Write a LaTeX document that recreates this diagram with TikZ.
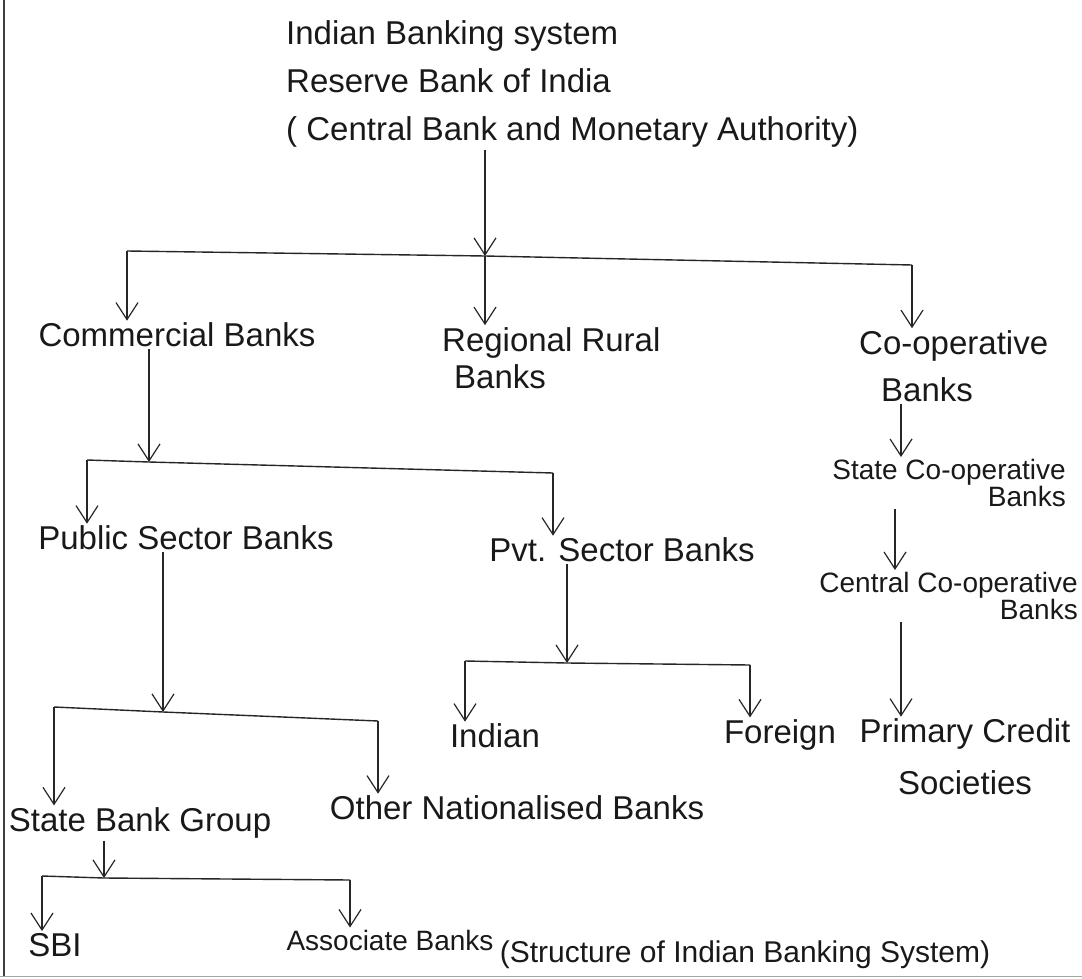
\documentclass[tikz,border=0pt]{standalone}
\usepackage{fontspec}
\setmainfont{Liberation Sans}
\usetikzlibrary{arrows.meta}

\tikzset{
  lbl/.style={inner sep=2pt, text=black!90, font=\fontsize{33}{40}\selectfont},
  arr/.style={-{Straight Barb[length=17pt,width=22pt]}, line width=1.2pt, draw=black!85},
  bar/.style={line width=1.4pt, draw=black!85}
}

\begin{document}
\begin{tikzpicture}[x=1pt,y=-1pt]
        \useasboundingbox (0,0) rectangle (1082,979);
        % page edges
        \draw[line width=1.2pt, black!75] (4,0) -- (4,976);
        \draw[line width=1pt, black!35] (0,976) -- (1082,976);
        % labels
        \node[lbl, anchor=west, align=left, font=\fontsize{33}{48}\selectfont] (rbi) at (284,84)
            {Indian Banking system\\Reserve Bank of India\\( Central Bank and Monetary Authority)};
        \node[lbl] (com) at (177,335) {Commercial Banks};
        \node[lbl, anchor=west, align=left, font=\fontsize{33}{37}\selectfont] (reg) at (440,358)
            {Regional Rural\\\hspace*{12pt}Banks};
        \node[lbl, anchor=west, align=left, font=\fontsize{33}{47}\selectfont] (coop) at (857,366)
            {Co-operative\\\hspace*{22pt}Banks};
        \node[lbl, anchor=east, align=right, font=\fontsize{28}{27}\selectfont] (scb) at (1068,483)
            {State Co-operative\\Banks};
        \node[lbl, anchor=east, align=right, font=\fontsize{28}{27}\selectfont] (ccb) at (1080,596)
            {Central Co-operative\\Banks};
        \node[lbl, align=center, font=\fontsize{33}{52}\selectfont] (pcs) at (965,757)
            {Primary Credit\\Societies};
        \node[lbl] (pub) at (186,538) {Public Sector Banks};
        \node[lbl] (pvt) at (622,550) {Pvt. Sector Banks};
        \node[lbl] (ind) at (495,736) {Indian};
        \node[lbl] (frn) at (780,735) {Foreign};
        \node[lbl] (sbg) at (140,823) {State Bank Group};
        \node[lbl] (onb) at (517,808) {Other Nationalised Banks};
        \node[lbl] (sbi) at (55,945) {SBI};
        \node[lbl, font=\fontsize{28}{34}\selectfont] (asb) at (390,940) {Associate Banks};
        \node[lbl, font=\fontsize{30}{36}\selectfont] (cap) at (745,955) {(Structure of Indian Banking System)};
        % junctions
        \coordinate (tl) at (127,251);
        \coordinate (t0) at (485,256);
        \coordinate (tr) at (912,265);
        \coordinate (cl) at (87,460);
        \coordinate (c0) at (149,462);
        \coordinate (cr) at (553,473);
        \coordinate (pl) at (54,707);
        \coordinate (p0) at (163,712);
        \coordinate (pr) at (378,721);
        \coordinate (sl) at (42,876);
        \coordinate (s0) at (104,878);
        \coordinate (sr) at (350,880);
        \coordinate (vl) at (465,661);
        \coordinate (v0) at (567,663);
        \coordinate (vr) at (750,665);
        \coordinate (k1) at (901,0);
        \coordinate (k2) at (895,0);
        % bars
        \draw[bar] (tl) -- (t0) -- (tr);
        \draw[bar] (cl) -- (c0) -- (cr);
        \draw[bar] (pl) -- (p0) -- (pr);
        \draw[bar] (sl) -- (s0) -- (sr);
        \draw[bar] (vl) -- (v0) -- (vr);
        % arrows
        \draw[arr] (t0 |- rbi.south) -- (t0);
        \draw[arr] (tl) -- (tl |- com.north);
        \draw[arr] (t0) -- (t0 |- reg.north);
        \draw[arr] (tr) -- (tr |- coop.north);
        \draw[arr] (c0 |- com.south) -- (c0);
        \draw[arr] (cl) -- (cl |- pub.north);
        \draw[arr] (cr) -- (cr |- pvt.north);
        \draw[arr] (p0 |- pub.south) -- (p0);
        \draw[arr] (pl) -- (pl |- sbg.north);
        \draw[arr] (pr) -- (pr |- onb.north);
        \draw[arr] (s0 |- sbg.south) -- (s0);
        \draw[arr] (sl) -- (sl |- sbi.north);
        \draw[arr] (sr) -- (sr |- asb.north);
        \draw[arr] (v0 |- pvt.south) -- (v0);
        \draw[arr] (vl) -- (vl |- ind.north);
        \draw[arr] (vr) -- (vr |- frn.north);
        \draw[arr] (k1 |- coop.south) -- (k1 |- scb.north);
        \draw[arr] (k2 |- scb.south) -- (k2 |- ccb.north);
        \draw[arr] (k1 |- ccb.south) -- (k1 |- pcs.north);
\end{tikzpicture}
\end{document}
